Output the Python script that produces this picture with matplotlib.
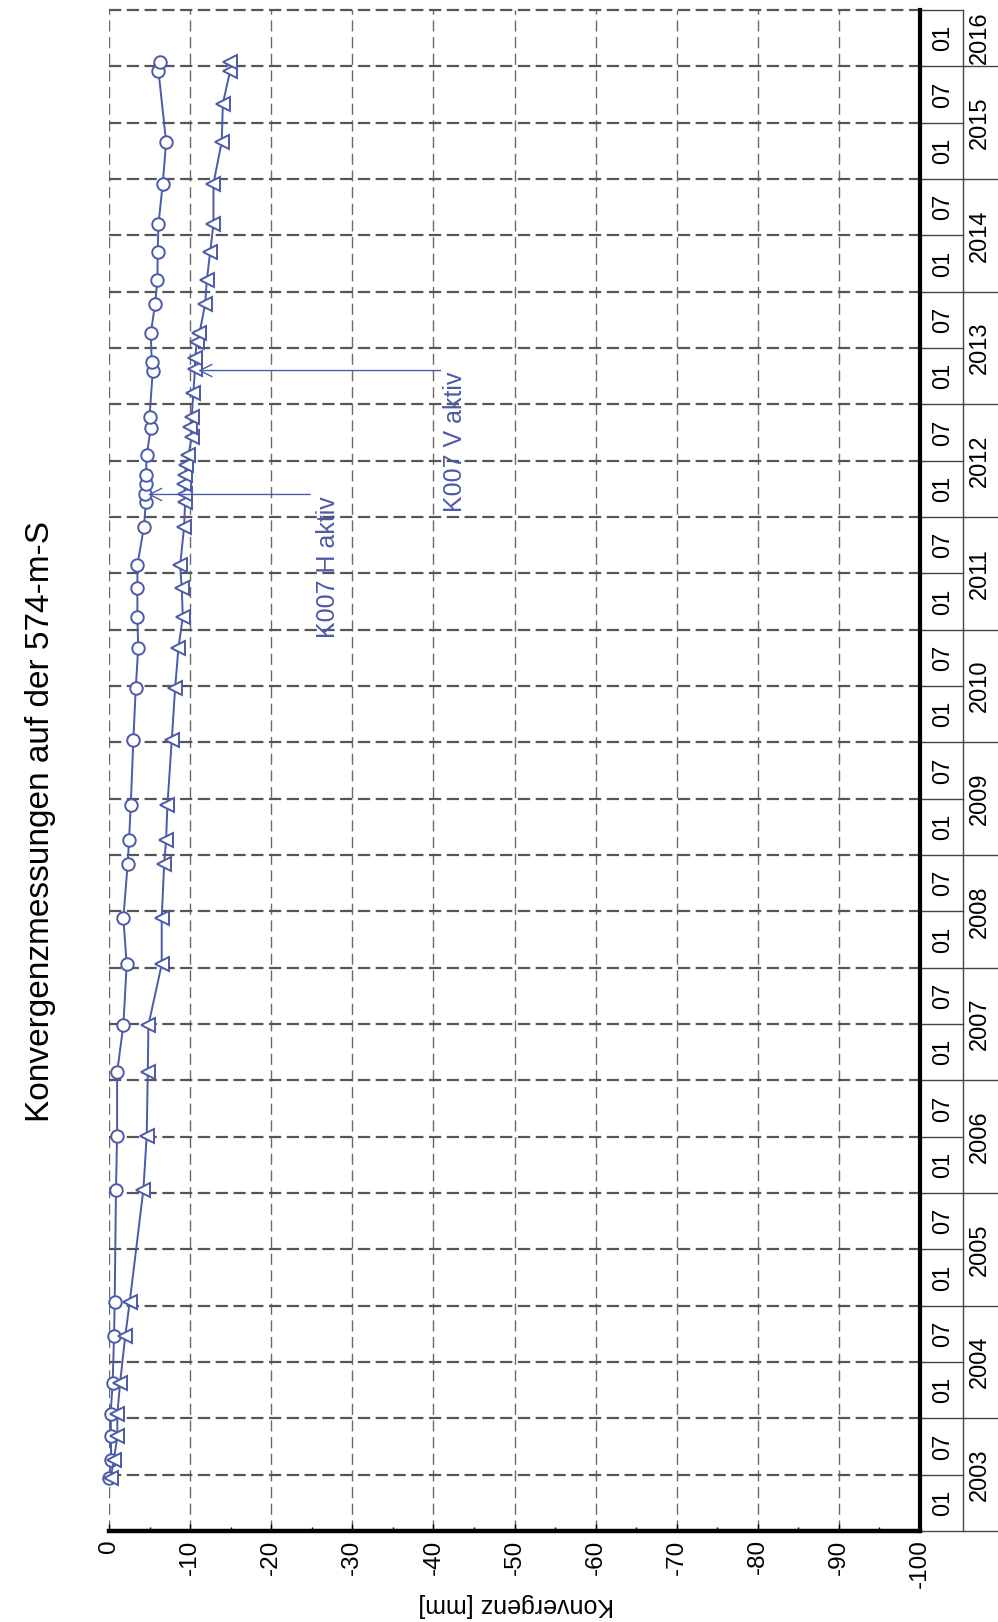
import numpy as np
import matplotlib
matplotlib.use('Agg')
import matplotlib.pyplot as plt
import matplotlib.transforms as mtransforms

matplotlib.rcParams.update({'font.family': ['Liberation Sans', 'DejaVu Sans'],
                            'axes.unicode_minus': False})

# Messzeitpunkte (Dezimaljahre) und Konvergenz [mm]
t_h = [2003.47, 2003.63, 2003.84, 2004.04, 2004.31, 2004.73, 2005.03, 2006.03,
       2006.51, 2007.07, 2007.49, 2008.03, 2008.44, 2008.92, 2009.13, 2009.44,
       2010.02, 2010.48, 2010.84, 2011.11, 2011.37, 2011.57, 2011.91, 2012.13,
       2012.20, 2012.29, 2012.37, 2012.55, 2012.79, 2012.89, 2013.30, 2013.38,
       2013.63, 2013.89, 2014.10, 2014.35, 2014.60, 2014.96, 2015.33, 2015.96,
       2016.04]
v_h = [0.0, -0.25, -0.25, -0.2, -0.45, -0.62, -0.7, -0.86,
       -1.0, -1.0, -1.77, -2.18, -1.77, -2.3, -2.47, -2.68,
       -3.0, -3.3, -3.6, -3.5, -3.5, -3.5, -4.3, -4.55,
       -4.45, -4.55, -4.55, -4.65, -5.15, -5.0, -5.4, -5.27,
       -5.15, -5.68, -5.97, -6.0, -6.1, -6.63, -7.04, -6.1,
       -6.3]

t_v = [2003.47, 2003.63, 2003.84, 2004.04, 2004.31, 2004.73, 2005.03, 2006.03,
       2006.51, 2007.07, 2007.49, 2008.03, 2008.44, 2008.92, 2009.13, 2009.44,
       2010.02, 2010.48, 2010.84, 2011.11, 2011.37, 2011.57, 2011.91, 2012.13,
       2012.20, 2012.29, 2012.37, 2012.46, 2012.55, 2012.71, 2012.80, 2012.89,
       2013.10, 2013.31, 2013.41, 2013.55, 2013.63, 2013.89, 2014.10, 2014.35,
       2014.60, 2014.96, 2015.33, 2015.67, 2015.96, 2016.04]
v_v = [-0.2, -0.6, -1.03, -1.03, -1.36, -2.0, -2.55, -4.24,
       -4.65, -4.78, -4.86, -6.5, -6.5, -6.8, -7.04, -7.2,
       -7.74, -8.15, -8.56, -9.1, -8.97, -8.77, -9.26, -9.38,
       -9.38, -9.26, -9.38, -9.5, -9.8, -10.2, -10.0, -10.2,
       -10.4, -10.6, -10.62, -10.82, -11.15, -11.85, -12.06, -12.47,
       -12.88, -12.88, -13.9, -14.04, -14.94, -14.94]

years = list(range(2003, 2017))
value_ticks = list(range(0, -101, -10))

blue = '#4b5aa9'

fig = plt.figure(figsize=(9.98, 16.22), dpi=100)
ax = fig.add_axes([109/998, 91/1622, 811/998, 1521/1622])
ax.set_xlim(0, -100)
ax.set_ylim(2003, 2016.5)

# Gitter
for v in value_ticks:
    ax.axvline(v, color='#6a6a6a', lw=1.0, ls=(0, (8, 4)), zorder=0)
for k in range(1, 28):
    ax.axhline(2003 + 0.5 * k, color='#555555', lw=1.6, ls=(0, (5.5, 2.5)),
               zorder=0, clip_on=False)

# Messreihen
ax.plot(v_h, t_h, color=blue, lw=1.4, marker='o', ms=9, mfc='white',
        mec=blue, mew=1.4, zorder=3, clip_on=False)
ax.plot(v_v, t_v, color=blue, lw=1.4, marker='<', ms=10, mfc='white',
        mec=blue, mew=1.4, zorder=3, clip_on=False)

# Beschriftungen der Ereignisse
ax.annotate('', xy=(-4.8, 2012.20), xytext=(-24.8, 2012.20),
            arrowprops=dict(arrowstyle='->', color=blue, lw=1.0,
                            mutation_scale=22, shrinkA=0, shrinkB=0))
ax.text(-27.0, 2012.18, 'K007 H aktiv', rotation=90, ha='center', va='top',
        fontsize=18, color=blue)
ax.annotate('', xy=(-11.0, 2013.30), xytext=(-40.9, 2013.30),
            arrowprops=dict(arrowstyle='->', color=blue, lw=1.0,
                            mutation_scale=22, shrinkA=0, shrinkB=0))
ax.text(-42.7, 2013.29, 'K007 V aktiv', rotation=90, ha='center', va='top',
        fontsize=18, color=blue)

# Achsen
for s in ['top', 'left']:
    ax.spines[s].set_visible(False)
ax.spines['bottom'].set_linewidth(3.2)
ax.spines['right'].set_linewidth(3.0)
ax.set_xticks(value_ticks)
ax.set_xticklabels([str(v) for v in value_ticks], rotation=90, fontsize=17.5)
ax.set_xticks(np.arange(-5, -100, -10), minor=True)
ax.tick_params(axis='x', which='major', direction='in', length=5, width=1, pad=6)
ax.tick_params(axis='x', which='minor', direction='in', length=3, width=1)
ax.set_yticks([])
fig.text(516/998, 1 - 1605/1622, 'Konvergenz [mm]', rotation=180,
         ha='center', va='center', fontsize=18)

# Datumsleiste rechts
tr = mtransforms.blended_transform_factory(ax.transAxes, ax.transData)
x0, x1, x2 = 1.0, 1.053, 1.12
for k in range(0, 28):
    t = 2003 + 0.5 * k
    xe = x2 if k % 2 == 0 else x1
    ax.plot([x0, xe], [t, t], color='#444444', lw=1.0, transform=tr, clip_on=False)
ax.plot([x1, x1], [2003, 2016.5], color='#444444', lw=1.0, transform=tr, clip_on=False)
for k in range(0, 27):
    t = 2003 + 0.5 * k
    ax.text(1.028, t + 0.25, '01' if k % 2 == 0 else '07', rotation=90,
            ha='center', va='center', fontsize=17, transform=tr)
for y in years:
    yc = y + 0.5 if y < 2016 else y + 0.25
    ax.text(1.074, yc, str(y), rotation=90, ha='center', va='center',
            fontsize=17, transform=tr)

fig.text(41/998, 1 - 822/1622, 'Konvergenzmessungen auf der 574-m-S',
         rotation=90, ha='center', va='center', fontsize=24)

fig.savefig('out.png', dpi=100)
